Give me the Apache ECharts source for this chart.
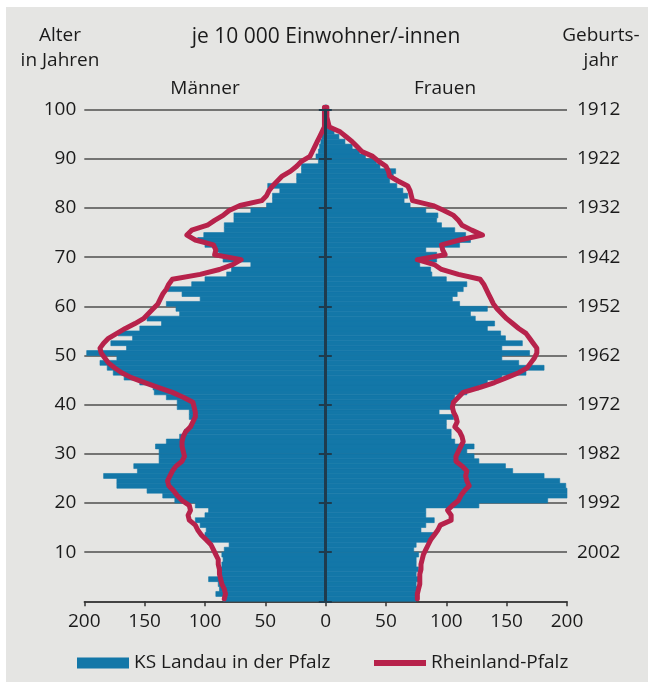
<!DOCTYPE html>
<html><head><meta charset="utf-8">
<script src="https://cdn.jsdelivr.net/npm/echarts@6/dist/echarts.min.js"></script>
<style>
html,body{margin:0;padding:0;background:#fff;}
#wrap{position:relative;width:648px;height:682px;overflow:hidden;}
#bg{position:absolute;left:6px;top:7px;right:0;bottom:0;background:#e5e5e3;}
#chart{position:absolute;left:0;top:0;width:648px;height:682px;}
</style></head><body>
<div id="wrap"><div id="bg"></div><div id="chart"></div></div>
<script>
// Age of each bar (years), index = age
const ages = Array.from({length: 101}, (_, i) => i);

// KS Landau in der Pfalz, per 10 000 inhabitants
const maleKS = [
  85, 91, 88, 89, 97, 88, 89, 86, 85, 86,
  84, 80, 99, 100, 99, 104, 108, 100, 97, 108,
  125, 135, 148, 173, 173, 184, 156, 159, 138, 138,
  138, 141, 132, 121, 117, 113, 110, 113, 113, 123,
  123, 132, 142, 143, 154, 167, 176, 181, 187, 173,
  198, 165, 178, 160, 172, 154, 136, 148, 121, 124,
  132, 104, 119, 131, 111, 100, 82, 78, 62, 85,
  88, 90, 100, 106, 101, 84, 84, 76, 76, 62,
  49, 44, 44, 38, 48, 24, 24, 20, 20, 6,
  8, 6, 5, 4, 3, 2, 1, 1, 0.5, 0.5, 0
];
const femaleKS = [
  75, 75, 76, 75, 78, 75, 77, 75, 75, 77,
  73, 75, 86, 90, 79, 83, 90, 83, 83, 127,
  184, 200, 200, 199, 194, 181, 155, 149, 127, 123,
  117, 123, 107, 104, 104, 100, 100, 106, 94, 105,
  107, 107, 117, 127, 134, 146, 166, 181, 160, 146,
  169, 146, 163, 149, 145, 134, 140, 124, 120, 134,
  111, 105, 109, 114, 117, 100, 88, 87, 78, 92,
  92, 83, 111, 120, 116, 107, 96, 92, 93, 83,
  70, 65, 68, 64, 59, 53, 56, 58, 45, 42,
  33, 28, 22, 16, 11, 7, 3, 2, 1, 1, 0.5
];

// Rheinland-Pfalz, per 10 000 inhabitants
const maleRP = [
  84, 83, 84, 86, 87, 88, 88, 89, 89, 91,
  93, 95, 99, 103, 106, 108, 113, 114, 112, 113,
  119, 123, 126, 130, 131, 129, 127, 124, 119, 117,
  118, 119, 119, 118, 116, 112, 110, 108, 108, 109,
  110, 118, 127, 139, 150, 161, 169, 175, 180, 183,
  186, 187, 184, 180, 173, 166, 158, 151, 147, 143,
  139, 137, 135, 132, 130, 127, 104, 88, 77, 70,
  92, 91, 93, 108, 115, 111, 98, 92, 85, 80,
  71, 53, 49, 47, 44, 40, 36, 29, 24, 20,
  13, 11, 9, 7, 5, 3, 1, 1, 1, 1, 1
];
const femaleRP = [
  76, 76, 77, 78, 78, 78, 79, 79, 80, 81,
  83, 85, 87, 90, 93, 95, 104, 104, 101, 105,
  110, 112, 115, 119, 117, 116, 117, 113, 108, 108,
  110, 112, 114, 113, 111, 107, 109, 108, 106, 105,
  106, 110, 114, 128, 140, 150, 160, 167, 170, 173,
  175, 175, 172, 169, 166, 160, 155, 150, 146, 142,
  139, 137, 135, 133, 131, 128, 110, 96, 90, 76,
  99, 97, 96, 111, 130, 121, 113, 110, 106, 98,
  89, 72, 71, 70, 68, 60, 53, 52, 50, 44,
  39, 30, 26, 22, 17, 12, 3, 2, 1, 1, 1
];

const baseYear = 2012;           // birth year = baseYear - age
const xTicks = [-200, -150, -100, -50, 0, 50, 100, 150, 200];

const BLUE = '#1377a8';
const RED = '#b7224b';
const AXIS_DARK = '#1f3b4d';
const FONT = 'Open Sans';
const TXT = '#1b1b1b';

const barData = [];
ages.forEach((a, i) => {
  barData.push([-maleKS[i], a]);
  barData.push([femaleKS[i], a]);
});
const maleLine = ages.map((a, i) => [-maleRP[i], a + 0.5]);
const femaleLine = ages.map((a, i) => [femaleRP[i], a + 0.5]);

const chart = echarts.init(document.getElementById('chart'), null, {renderer: 'canvas'});
const axisLabelBase = {fontFamily: FONT, fontSize: 19, color: TXT};

const GRID_TOP = 109.7, GRID_BOTTOM = 80.7;

chart.setOption({
  backgroundColor: 'transparent',
  animation: false,
  textStyle: {fontFamily: FONT},
  grid: [
    {left: 84.3, right: 81, top: GRID_TOP, bottom: GRID_BOTTOM, containLabel: false},
    // thin grid at the zero line carrying the central age axis
    {left: 324.8, width: 1, top: GRID_TOP, bottom: GRID_BOTTOM, containLabel: false, z: 10}
  ],
  xAxis: [
    {
      type: 'value', gridIndex: 0, min: xTicks[0], max: xTicks[xTicks.length - 1], interval: 50,
      axisLine: {show: true, onZero: false, lineStyle: {color: '#333', width: 1.5}},
      axisTick: {show: true, length: 5, lineStyle: {color: '#333', width: 1.5}},
      axisLabel: Object.assign({}, axisLabelBase, {margin: 11, formatter: v => String(Math.abs(v))}),
      splitLine: {show: false}
    },
    {type: 'value', gridIndex: 1, min: 0, max: 1, show: false}
  ],
  yAxis: [
    {
      type: 'value', gridIndex: 0, min: 0, max: 100, interval: 10, position: 'left',
      axisLine: {show: false, onZero: false}, axisTick: {show: false},
      axisLabel: Object.assign({}, axisLabelBase, {margin: 8, formatter: v => v === 0 ? '' : String(v)}),
      splitLine: {show: true, lineStyle: {color: '#4e4e4e', width: 1.6}}
    },
    {
      type: 'value', gridIndex: 0, min: 0, max: 100, interval: 10, position: 'right',
      axisLine: {show: false, onZero: false}, axisTick: {show: false},
      axisLabel: Object.assign({}, axisLabelBase, {margin: 10, formatter: v => v === 0 ? '' : String(baseYear - v)}),
      splitLine: {show: false}
    },
    {
      type: 'value', gridIndex: 1, min: 0, max: 100, interval: 10, position: 'left', z: 10,
      axisLine: {show: true, onZero: false, lineStyle: {color: AXIS_DARK, width: 2}},
      axisTick: {show: true, inside: false, length: 6, lineStyle: {color: AXIS_DARK, width: 2}},
      axisLabel: {show: false}, splitLine: {show: false}
    },
    {
      type: 'value', gridIndex: 1, min: 0, max: 100, interval: 10, position: 'right', z: 10,
      axisLine: {show: true, onZero: false, lineStyle: {color: AXIS_DARK, width: 2}},
      axisTick: {show: true, inside: false, length: 6, lineStyle: {color: AXIS_DARK, width: 2}},
      axisLabel: {show: false}, splitLine: {show: false}
    }
  ],
  legend: [
    {
      data: [{name: 'KS Landau in der Pfalz', icon: 'rect'}],
      left: 77, top: 652, padding: 0, itemWidth: 52, itemHeight: 11, itemGap: 0,
      textStyle: {fontFamily: FONT, fontSize: 19, color: TXT, lineHeight: 22},
      selectedMode: false
    },
    {
      data: [{name: 'Rheinland-Pfalz', icon: 'rect'}],
      left: 374, top: 652, padding: 0, itemWidth: 52, itemHeight: 6, itemGap: 0,
      textStyle: {fontFamily: FONT, fontSize: 19, color: TXT, lineHeight: 22},
      selectedMode: false
    }
  ],
  graphic: [
    {type: 'text', x: 326, y: 37, style: {text: 'je 10 000 Einwohner/-innen', font: '21px "Open Sans"', fill: TXT, align: 'center', verticalAlign: 'middle'}},
    {type: 'text', x: 60, y: 36, style: {text: 'Alter', font: '19px "Open Sans"', fill: TXT, align: 'center', verticalAlign: 'middle'}},
    {type: 'text', x: 60, y: 61, style: {text: 'in Jahren', font: '19px "Open Sans"', fill: TXT, align: 'center', verticalAlign: 'middle'}},
    {type: 'text', x: 601, y: 36, style: {text: 'Geburts-', font: '19px "Open Sans"', fill: TXT, align: 'center', verticalAlign: 'middle'}},
    {type: 'text', x: 601, y: 61, style: {text: 'jahr', font: '19px "Open Sans"', fill: TXT, align: 'center', verticalAlign: 'middle'}},
    {type: 'text', x: 205, y: 89, style: {text: 'Männer', font: '19px "Open Sans"', fill: TXT, align: 'center', verticalAlign: 'middle'}},
    {type: 'text', x: 445, y: 89, style: {text: 'Frauen', font: '19px "Open Sans"', fill: TXT, align: 'center', verticalAlign: 'middle'}}
  ],
  series: [
    {
      name: 'KS Landau in der Pfalz', type: 'custom', xAxisIndex: 0, yAxisIndex: 0,
      data: barData, encode: {x: 0, y: 1}, clip: false, z: 2,
      itemStyle: {color: BLUE},
      renderItem: function (params, api) {
        const v = api.value(0), a = api.value(1);
        const p0 = api.coord([0, a]);
        const p1 = api.coord([v, a + 1]);
        return {
          type: 'rect',
          shape: {x: Math.min(p0[0], p1[0]), y: p1[1], width: Math.abs(p1[0] - p0[0]), height: p0[1] - p1[1]},
          style: {fill: BLUE, stroke: BLUE, lineWidth: 0.6}
        };
      }
    },
    {
      name: 'Rheinland-Pfalz', type: 'line', xAxisIndex: 0, yAxisIndex: 0,
      data: maleLine, showSymbol: false, symbol: 'none', clip: false, z: 5,
      lineStyle: {color: RED, width: 5, join: 'round', cap: 'round'}, itemStyle: {color: RED}
    },
    {
      name: 'Rheinland-Pfalz', type: 'line', xAxisIndex: 0, yAxisIndex: 0,
      data: femaleLine, showSymbol: false, symbol: 'none', clip: false, z: 5,
      lineStyle: {color: RED, width: 5, join: 'round', cap: 'round'}, itemStyle: {color: RED}
    }
  ]
});
</script>
</body></html>
